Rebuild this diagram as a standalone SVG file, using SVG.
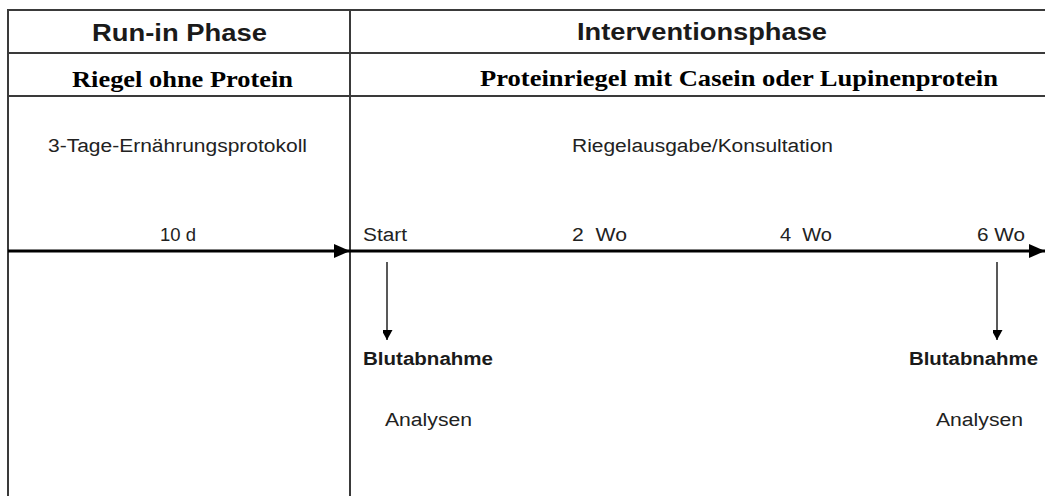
<svg xmlns="http://www.w3.org/2000/svg" width="1045" height="496" viewBox="0 0 1045 496">
<style>
.grid{stroke:#3a3a3a;stroke-width:2;fill:none}
.h1{font-family:"Liberation Sans",Arial,sans-serif;font-weight:bold;font-size:23px;fill:#1a1a1a}
.h2{font-family:"Liberation Serif","Times New Roman",serif;font-weight:bold;font-size:24px;fill:#000}
.t{font-family:"Liberation Sans",Arial,sans-serif;font-size:18px;fill:#222}
.b{font-family:"Liberation Sans",Arial,sans-serif;font-weight:bold;font-size:18px;fill:#1a1a1a}
.axis{stroke:#000;stroke-width:3;fill:none}
.down{stroke:#222;stroke-width:1.5;fill:none}
</style>
<defs>
<marker id="bigHead" markerUnits="userSpaceOnUse" markerWidth="16" markerHeight="14" refX="16" refY="7" orient="auto">
<path d="M0,0 L16,7 L0,14 Z" fill="#000"/>
</marker>
<marker id="smallHead" markerUnits="userSpaceOnUse" markerWidth="12" markerHeight="10" refX="10" refY="5.5" orient="auto">
<path d="M0,0 L10,5.5 L0,11 Z" fill="#000"/>
</marker>
</defs>
<rect width="1045" height="496" fill="#fff"/>
<g id="table">
<line class="grid" x1="8" y1="10" x2="1045" y2="10"/>
<line class="grid" x1="8" y1="53" x2="1045" y2="53"/>
<line class="grid" x1="8" y1="96" x2="1045" y2="96"/>
<line class="grid" x1="8" y1="9" x2="8" y2="496"/>
<line class="grid" x1="350" y1="9" x2="350" y2="496"/>
</g>
<g id="run-in-header">
<text class="h1" x="92" y="41" textLength="175" lengthAdjust="spacingAndGlyphs">Run-in Phase</text>
</g>
<g id="intervention-header">
<text class="h1" x="577" y="40" textLength="250" lengthAdjust="spacingAndGlyphs">Interventionsphase</text>
</g>
<g id="run-in-bar">
<text class="h2" x="72" y="87" textLength="221" lengthAdjust="spacingAndGlyphs">Riegel ohne Protein</text>
</g>
<g id="intervention-bar">
<text class="h2" x="480" y="86" font-size="25" textLength="518" lengthAdjust="spacingAndGlyphs">Proteinriegel mit Casein oder Lupinenprotein</text>
</g>
<g id="protocol">
<text class="t" x="48" y="152" textLength="259" lengthAdjust="spacingAndGlyphs">3-Tage-Ernährungsprotokoll</text>
</g>
<g id="consultation">
<text class="t" x="572" y="152" textLength="261" lengthAdjust="spacingAndGlyphs">Riegelausgabe/Konsultation</text>
</g>
<g id="timeline-labels">
<text class="t" x="160" y="241" textLength="36" lengthAdjust="spacingAndGlyphs">10 d</text>
<text class="t" x="363" y="241" textLength="44" lengthAdjust="spacingAndGlyphs">Start</text>
<text class="t" x="572" y="241" textLength="55" lengthAdjust="spacingAndGlyphs" xml:space="preserve">2  Wo</text>
<text class="t" x="780" y="241" textLength="52" lengthAdjust="spacingAndGlyphs" xml:space="preserve">4  Wo</text>
<text class="t" x="977" y="241" textLength="48" lengthAdjust="spacingAndGlyphs">6 Wo</text>
</g>
<g id="blood-start">
<text class="b" x="363" y="365" textLength="130" lengthAdjust="spacingAndGlyphs">Blutabnahme</text>
<text class="t" x="385" y="426" textLength="87" lengthAdjust="spacingAndGlyphs">Analysen</text>
</g>
<g id="blood-end">
<text class="b" x="909" y="365" textLength="129" lengthAdjust="spacingAndGlyphs">Blutabnahme</text>
<text class="t" x="936" y="426" textLength="87" lengthAdjust="spacingAndGlyphs">Analysen</text>
</g>
<g id="connectors">
<line class="axis" x1="8" y1="251" x2="350" y2="251" marker-end="url(#bigHead)"/>
<line class="axis" x1="350" y1="251" x2="1045" y2="251" marker-end="url(#bigHead)"/>
<line class="down" x1="387" y1="262" x2="387" y2="340" marker-end="url(#smallHead)"/>
<line class="down" x1="997" y1="262" x2="997" y2="340" marker-end="url(#smallHead)"/>
</g>
</svg>
